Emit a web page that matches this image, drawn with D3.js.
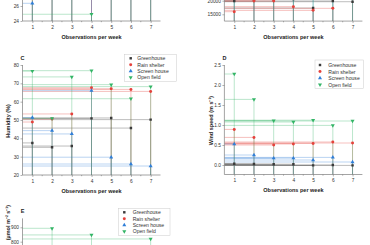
<!DOCTYPE html>
<html><head><meta charset="utf-8">
<script src="https://cdn.jsdelivr.net/npm/d3@7"></script>
<style>
html,body{margin:0;padding:0;background:#fff;}
svg{display:block;font-family:"Liberation Sans",Arial,sans-serif;}
</style></head>
<body><svg id="c" width="370" height="245"></svg>
<script>
// ---------- data ----------
const observations = [1, 2, 3, 4, 5, 6, 7];
const seriesNames = ["Greenhouse", "Rain shelter", "Screen house", "Open field"];

// Panel A (temperature, only bottom visible)
const tempGreenhouse  = [29.5, 30.2, 29.8, 30.5, 29.9, 30.1, 29.7];
const tempRainShelter = [28.8, 29.1, 28.6, 29.4, 28.9, 29.2, 28.7];
const tempScreenHouse = [26.36, 28.2, 27.9, 28.4, 28.1, 27.8, 28.3];
const tempOpenField   = [27.6, 27.9, 27.5, 24.9, 27.8, 27.7, 27.9];
const tempTicks = [24, 26, 28, 30, 32, 34, 36, 38];

// Panel B (light, only bottom visible)
const lightGreenhouse  = [19900, 20400, 20500, 20600, 17300, 19900, 19630];
const lightRainShelter = [15960, 19900, 19900, 17800, 16450, 17200, 20800];
const lightScreenHouse = [22500, 23000, 22800, 23500, 22700, 23100, 22900];
const lightOpenField   = [31000, 32500, 30800, 33000, 31500, 32000, 30500];
const lightTicks = [15000, 20000, 25000, 30000, 35000, 40000, 45000];

// Panel C humidity
const humGreenhouse  = [37.5, 35.1, 35.8, 50.9, 51.1, 45.6, 50.2];
const humRainShelter = [48.9, 50.5, 53.3, 67.6, 67.0, 66.7, 65.6];
const humScreenHouse = [51.3, 44.2, 42.4, 66.0, 29.7, 26.0, 24.9];
const humOpenField   = [76.7, 50.9, 73.5, 76.9, 69.3, 61.6, 68.2];
const humTicks = [20, 30, 40, 50, 60, 70, 80];

// Panel D wind speed
const windGreenhouse  = [0.03, 0.025, 0.02, 0.02, -0.01, 0.0, -0.01];
const windRainShelter = [0.89, 0.69, 0.50, 0.525, 0.54, 0.575, 0.55];
const windScreenHouse = [0.525, 0.25, 0.17, 0.17, 0.125, 0.19, 0.075];
const windOpenField   = [2.275, 1.64, 1.11, 1.075, 1.12, 0.99, 1.10];
const windTicks = [0, 0.5, 1.0, 1.5, 2.0, 2.5];

// Panel E PAR (only top visible)
const parGreenhouse  = [420, 450, 410, 430, 445, 425, 440];
const parRainShelter = [380, 400, 370, 390, 395, 385, 375];
const parScreenHouse = [300, 320, 290, 310, 305, 315, 295];
const parOpenField   = [720, 893, 690, 847, 705, 740, 819];
const parTicks = [200, 300, 400, 500, 600, 700, 800, 900];

// ---------- styles ----------
const colors = ["#3a3a3a", "#e5413b", "#2f7ed8", "#33b566"];
const triDown = { draw(ctx, size) { const s = Math.sqrt(size / (Math.sqrt(3) / 4)); const h = s * Math.sqrt(3) / 2;
  ctx.moveTo(0, h * 2 / 3); ctx.lineTo(s / 2, -h / 3); ctx.lineTo(-s / 2, -h / 3); ctx.closePath(); } };
const triUp = { draw(ctx, size) { const s = Math.sqrt(size / (Math.sqrt(3) / 4)); const h = s * Math.sqrt(3) / 2;
  ctx.moveTo(0, -h * 2 / 3); ctx.lineTo(s / 2, h / 3); ctx.lineTo(-s / 2, h / 3); ctx.closePath(); } };
const symbols = [d3.symbolSquare, d3.symbolCircle, triUp, triDown];
const symSizes = [6, 7, 7, 7];

const svg = d3.select("#c");
const H = 245;

function panel(o) {
  const g = svg.append("g");
  const x = d3.scaleLinear().domain([0.5, 7.5]).range([o.left, o.left + 138]);
  const y = d3.scaleLinear().domain(o.refVals).range(o.refPx);
  const yb = y(o.yMin), yt = y(o.yMax);
  const id = "clip" + o.letter;
  svg.append("clipPath").attr("id", id).append("rect")
    .attr("x", x(0.5)).attr("y", yt).attr("width", 138).attr("height", yb - yt);
  const pg = g.append("g").attr("clip-path", `url(#${id})`);
  o.series.forEach((vals, i) => {
    vals.forEach((v, j) => {
      pg.append("line").attr("x1", x(0.5)).attr("x2", x(observations[j]))
        .attr("y1", y(v)).attr("y2", y(v))
        .attr("stroke", colors[i]).attr("stroke-width", 0.8).attr("stroke-opacity", 0.42);
      pg.append("line").attr("x1", x(observations[j])).attr("x2", x(observations[j]))
        .attr("y1", y(v)).attr("y2", yb)
        .attr("stroke", colors[i]).attr("stroke-width", 0.8).attr("stroke-opacity", 0.42);
    });
  });
  o.series.forEach((vals, i) => {
    pg.selectAll(null).data(vals).enter().append("path")
      .attr("d", d3.symbol().type(symbols[i]).size(symSizes[i]))
      .attr("transform", (v, j) => `translate(${x(observations[j])},${y(v)})`)
      .attr("fill", colors[i]);
  });
  // axes (only ticks that fall inside the picture)
  const visTicks = o.ticks.filter(t => t >= o.yMin && t <= o.yMax && y(t) > -2 && y(t) < H + 2);
  const ya = g.append("g").attr("transform", `translate(${x(0.5)},0)`)
    .call(d3.axisLeft(y).tickValues(visTicks).tickFormat(o.fmt).tickSize(2).tickPadding(1.5));
  ya.select(".domain").remove();
  if (yb < H) {
    const xa = g.append("g").attr("transform", `translate(0,${yb})`)
      .call(d3.axisBottom(x).tickValues(observations).tickFormat(d3.format("d")).tickSize(2).tickPadding(2.5));
    xa.select(".domain").remove();
    xa.selectAll(".tick line").attr("stroke", "#666").attr("stroke-width", 0.5);
    xa.selectAll("text").attr("font-size", 4.8).attr("fill", "#333")
      .attr("font-family", "Liberation Sans, Arial, sans-serif");
    g.append("g").attr("transform", `translate(0,${yb})`)
      .selectAll("line").data([1.5, 2.5, 3.5, 4.5, 5.5, 6.5]).enter().append("line")
      .attr("x1", d => x(d)).attr("x2", d => x(d)).attr("y1", 0).attr("y2", 1.2)
      .attr("stroke", "#666").attr("stroke-width", 0.5);
    g.append("line").attr("x1", x(0.5)).attr("x2", x(7.5)).attr("y1", yb).attr("y2", yb)
      .attr("stroke", "#666").attr("stroke-width", 0.6);
    g.append("text").attr("x", (x(0.5) + x(7.5)) / 2).attr("y", yb + 17.5)
      .attr("text-anchor", "middle").attr("font-size", 5.5).attr("font-weight", "bold")
      .attr("fill", "#222").text("Observations per week");
  }
  ya.selectAll(".tick line").attr("stroke", "#666").attr("stroke-width", 0.5);
  ya.selectAll("text").attr("font-size", 4.8).attr("fill", "#333")
    .attr("font-family", "Liberation Sans, Arial, sans-serif");
  g.append("line").attr("x1", x(0.5)).attr("x2", x(0.5)).attr("y1", yt).attr("y2", yb)
    .attr("stroke", "#666").attr("stroke-width", 0.6);
  // y label and panel letter only when inside the picture
  if (o.yLabel) {
    g.append("text").attr("font-size", 5.5).attr("font-weight", "bold").attr("fill", "#222")
      .attr("transform", `translate(${o.ylx},${o.yly}) rotate(-90)`)
      .attr("text-anchor", o.ylAnchor || "middle").attr("dominant-baseline", "central")
      .text(o.yLabel);
  }
  if (yt - 5.5 > 0) {
    g.append("text").attr("x", x(0.5)).attr("y", yt - 5.5).attr("text-anchor", "middle")
      .attr("font-size", 5.5).attr("font-weight", "bold").attr("fill", "#222").text(o.letter);
  }
  // legend
  if (o.legend) {
    const L = o.legend;
    g.append("rect").attr("x", L.x0).attr("y", L.y0).attr("width", L.w).attr("height", L.h)
      .attr("fill", "#fff").attr("stroke", "#ccc").attr("stroke-width", 0.5);
    seriesNames.forEach((n, i) => {
      const yy = L.row0 + i * L.dy;
      g.append("path").attr("d", d3.symbol().type(symbols[i]).size(symSizes[i])())
        .attr("transform", `translate(${L.mx},${yy})`).attr("fill", colors[i]);
      g.append("text").attr("x", L.tx).attr("y", yy).attr("dominant-baseline", "central")
        .attr("font-size", 5.1).attr("fill", "#333").text(n);
    });
  }
}

panel({ letter: "A", left: 22.5, refVals: [24, 26], refPx: [21, 6], yMin: 24, yMax: 38.6,
  ticks: tempTicks, fmt: d3.format("d"),
  series: [tempGreenhouse, tempRainShelter, tempScreenHouse, tempOpenField] });
panel({ letter: "B", left: 224.4, refVals: [15000, 20000], refPx: [14.3, 0.7], yMin: 12500, yMax: 52900,
  ticks: lightTicks, fmt: d3.format("d"),
  series: [lightGreenhouse, lightRainShelter, lightScreenHouse, lightOpenField] });
panel({ letter: "C", left: 22.5, refVals: [20, 80], refPx: [175, 65], yMin: 20, yMax: 80,
  ticks: humTicks, fmt: d3.format("d"),
  series: [humGreenhouse, humRainShelter, humScreenHouse, humOpenField],
  yLabel: "Humidity (%)", ylx: 7.5, yly: 121,
  legend: { x0: 124.3, y0: 54.3, w: 52.4, h: 27.4, mx: 130.7, tx: 137.3, row0: 58.3, dy: 6.35 } });
panel({ letter: "D", left: 224.4, refVals: [0, 2.5], refPx: [165, 65], yMin: -0.2375, yMax: 2.5,
  ticks: windTicks, fmt: d3.format(".1f"),
  series: [windGreenhouse, windRainShelter, windScreenHouse, windOpenField],
  yLabel: "Wind speed (m s⁻¹)", ylx: 211, yly: 120.5,
  legend: { x0: 315, y0: 60, w: 48.3, h: 28.3, mx: 320, tx: 328.3, row0: 65, dy: 6.55 } });
panel({ letter: "E", left: 22.5, refVals: [800, 900], refPx: [241.7, 227.3], yMin: 198, yMax: 962,
  ticks: parTicks, fmt: d3.format("d"),
  series: [parGreenhouse, parRainShelter, parScreenHouse, parOpenField],
  yLabel: "(µmol m⁻² s⁻¹)", ylx: 7.5, yly: 205, ylAnchor: "end",
  legend: { x0: 118.3, y0: 208.3, w: 51.7, h: 27, mx: 124.3, tx: 132.7, row0: 212.3, dy: 6.35 } });
</script></body></html>
